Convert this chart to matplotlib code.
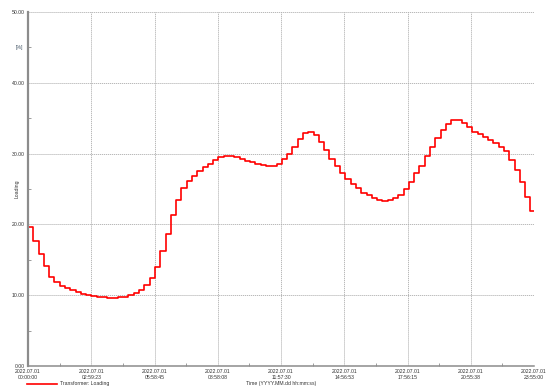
import pandas as pd
import matplotlib
matplotlib.use("Agg")
import matplotlib.pyplot as plt
from matplotlib.ticker import MultipleLocator, FixedLocator

# 15-minute transformer loading [%], 2022.07.01
block_00 = [19.7, 17.7, 15.8, 14.1, 12.6, 11.9, 11.3, 11.0, 10.7, 10.4, 10.2, 10.0]
block_03 = [9.9, 9.8, 9.7, 9.6, 9.6, 9.7, 9.8, 10.0, 10.3, 10.8, 11.4, 12.4]
block_06 = [14.0, 16.2, 18.7, 21.3, 23.5, 25.2, 26.2, 26.9, 27.5, 28.1, 28.6, 29.1]
block_09 = [29.5, 29.7, 29.7, 29.5, 29.2, 29.0, 28.8, 28.6, 28.4, 28.2, 28.2, 28.5]
block_12 = [29.2, 30.0, 30.9, 32.0, 32.9, 33.0, 32.6, 31.7, 30.5, 29.2, 28.2, 27.2]
block_15 = [26.4, 25.7, 25.1, 24.5, 24.1, 23.7, 23.4, 23.3, 23.4, 23.7, 24.2, 25.0]
block_18 = [26.0, 27.3, 28.3, 29.6, 30.9, 32.2, 33.4, 34.2, 34.7, 34.7, 34.3, 33.7]
block_21 = [33.1, 32.7, 32.3, 31.9, 31.5, 31.0, 30.3, 29.1, 27.7, 26.0, 23.9, 21.9]

x_ticklabels = ["2022.07.01\n00:00:00", "2022.07.01\n02:59:23", "2022.07.01\n05:58:45",
                "2022.07.01\n08:58:08", "2022.07.01\n11:57:30", "2022.07.01\n14:56:53",
                "2022.07.01\n17:56:15", "2022.07.01\n20:55:38", "2022.07.01\n23:55:00"]
y_ticks = [0, 10, 20, 30, 40, 50]

values = (block_00 + block_03 + block_06 + block_09 +
          block_12 + block_15 + block_18 + block_21)
t0 = pd.Timestamp("2022-07-01 00:00:00")
t1 = pd.Timestamp("2022-07-01 23:55:00")
times = list(pd.date_range(t0, periods=len(values), freq="15min")) + [t1]
values = values + [values[-1]]

RED = "#FF0000"
GRIDC = "#A6A6A6"
SPINE = "#8C8C8C"
TXT = "#333333"
FS = 3.7

plt.rcParams.update({"font.family": ["Liberation Sans", "DejaVu Sans"],
                     "font.size": FS, "text.color": TXT})

fig = plt.figure(figsize=(5.5, 3.92), dpi=100)
ax = fig.add_axes([28 / 550, 1 - 366 / 392, 506 / 550, 354 / 392])

line, = ax.plot(times, values, drawstyle="steps-post", color=RED, lw=1.2,
                label="Transformer: Loading")

ax.set_xlim(t0, t1)
ax.set_ylim(0, 50)

xt = pd.date_range(t0, t1, periods=len(x_ticklabels))
xnum = matplotlib.dates.date2num(xt)
ax.xaxis.set_major_locator(FixedLocator(xnum))
ax.set_xticklabels(x_ticklabels)
mids = (xnum[:-1] + xnum[1:]) / 2
ax.xaxis.set_minor_locator(FixedLocator(mids))

ax.set_yticks(y_ticks)
ax.set_yticklabels([f"{v:.2f}" for v in y_ticks])
ax.yaxis.set_minor_locator(MultipleLocator(5))

ax.tick_params(which="major", length=0, pad=2.5, colors=TXT, labelsize=FS)
ax.tick_params(which="minor", direction="in", length=2, width=0.6, color=SPINE)

ax.grid(which="major", color=GRIDC, lw=0.55, ls=(0, (1.6, 1.0)))
for s in ["top", "right"]:
    ax.spines[s].set_visible(False)
ax.spines["left"].set_color(SPINE)
ax.spines["left"].set_linewidth(1.6)
ax.spines["bottom"].set_color(SPINE)
ax.spines["bottom"].set_linewidth(1.1)

ax.set_ylabel("Loading", fontsize=FS, color=TXT)
ax.yaxis.set_label_coords(-0.016, 0.5)
ax.text(-0.018, 0.9, "[%]", transform=ax.transAxes, ha="center", va="center",
        fontsize=FS, color="#445566")

ax.set_xlabel("Time (YYYY.MM.dd hh:mm:ss)", fontsize=FS, color=TXT)
ax.xaxis.set_label_coords(0.5, -(383 - 366) / 354)
ax.xaxis.label.set_va("center")

fig.legend(handles=[line], loc="center left", bbox_to_anchor=(27 / 550, 1 - 384 / 392),
           frameon=False, fontsize=FS, handlelength=5.8, handletextpad=0.6,
           borderpad=0, borderaxespad=0)

fig.savefig("out.png", dpi=100)
